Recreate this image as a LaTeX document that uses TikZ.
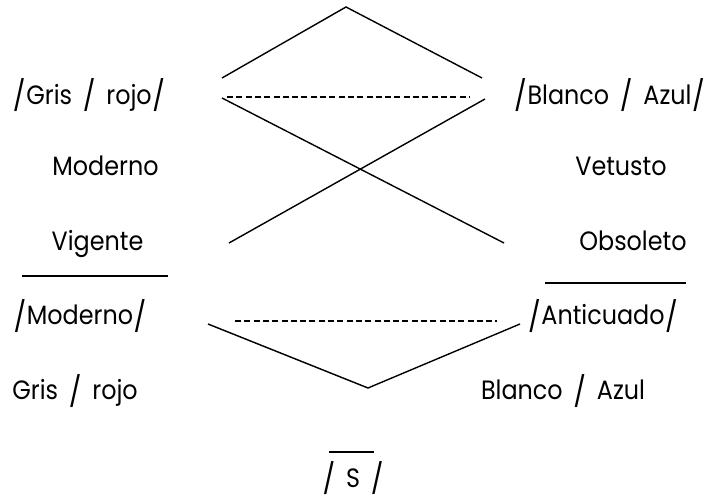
\documentclass[tikz,border=0pt]{standalone}
\usepackage{graphicx}
\usepackage{fontspec}
\setmainfont{Poppins}[FakeStretch=0.9,WordSpace=1.6]
\newcommand\sls{{\kern0.6pt\raisebox{-0.08em}{\scalebox{1.12}[1.12]{/}}\kern0.6pt}}
\begin{document}
\begin{tikzpicture}[x=1pt,y=-1pt,
  lbl/.style={anchor=base,inner sep=0pt,font=\fontsize{26.5}{30}\selectfont},
  ln/.style={line width=1.4pt},
  dsh/.style={line width=1.5pt,dash pattern=on 6pt off 3.3pt}]
\useasboundingbox (0,0) rectangle (707,502);
% texts
\node[lbl] (gr1) at (89,104.5) {\sls Gris \sls{} rojo\sls};
\node[lbl] (ba1) at (609.5,104.5) {\sls Blanco \sls{} Azul\sls};
\node[lbl] (mod) at (105.5,176) {Moderno};
\node[lbl] (vet) at (621,176) {Vetusto};
\node[lbl] (vig) at (97.5,251) {Vigente};
\node[lbl] (obs) at (633,251) {Obsoleto};
\node[lbl] (mod2) at (80,325) {\sls Moderno\sls};
\node[lbl] (ant) at (603,325) {\sls Anticuado\sls};
\node[lbl] (gr2) at (75,400) {Gris \sls{} rojo};
\node[lbl] (ba2) at (563,400) {Blanco \sls{} Azul};
\node[lbl] (s) at (353,487) {\sls{} S \sls};
% coordinates
\coordinate (apex) at (346,7);
\coordinate (tl) at (222,78);
\coordinate (tr) at (482,78);
\coordinate (d1a) at (227,97);
\coordinate (d1b) at (469,97);
\coordinate (xa1) at (222,98);
\coordinate (xa2) at (504,243);
\coordinate (xb1) at (229,243);
\coordinate (xb2) at (485,99);
\coordinate (d2a) at (235,321);
\coordinate (d2b) at (497,321);
\coordinate (vl) at (208,324);
\coordinate (vb) at (368,388);
\coordinate (vr) at (520,324);
\coordinate (o1a) at (22,276);
\coordinate (o1b) at (168,276);
\coordinate (o2a) at (545,283);
\coordinate (o2b) at (686,283);
\coordinate (o3a) at (329,452);
\coordinate (o3b) at (374,452);
% lines
\draw[ln] (tl) -- (apex) -- (tr);
\draw[dsh] (d1a) -- (d1b);
\draw[ln] (xa1) -- (xa2);
\draw[ln] (xb1) -- (xb2);
\draw[dsh] (d2a) -- (d2b);
\draw[ln] (vl) -- (vb) -- (vr);
\draw[ln] (o1a) -- (o1b);
\draw[ln] (o2a) -- (o2b);
\draw[ln] (o3a) -- (o3b);
\end{tikzpicture}
\end{document}
